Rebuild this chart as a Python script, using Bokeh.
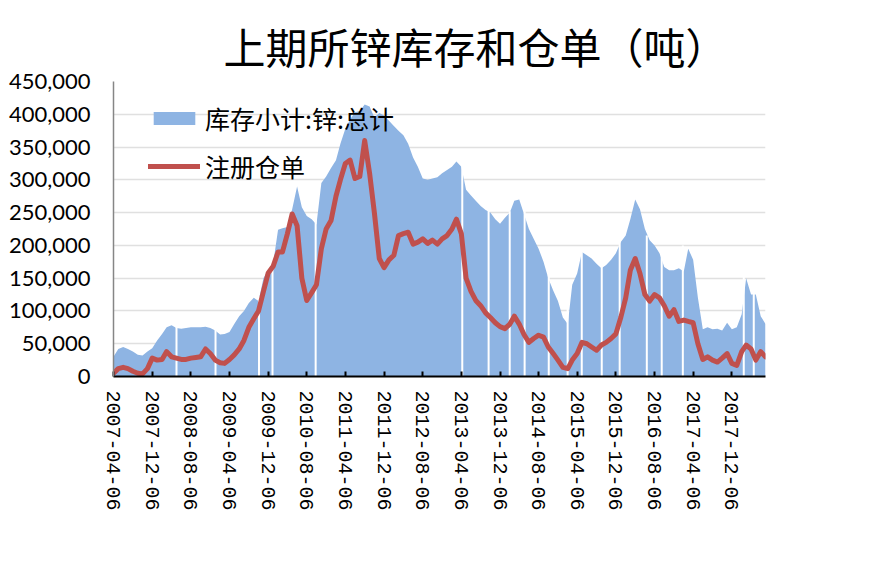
import math
import pandas as pd
from bokeh.plotting import figure
from bokeh.models import (Range1d, FixedTicker, DatetimeTickFormatter, NumeralTickFormatter,
                          SingleIntervalTicker, Legend, LegendItem)
from bokeh.embed import file_html
from bokeh.resources import INLINE

# ---- data (tonnes), monthly readings, Apr 2007 .. Jul 2018 ----
months = pd.period_range("2007-04", "2018-07", freq="M")
dates = [pd.Timestamp(m.year, m.month, 6).to_pydatetime() for m in months]

stock_k = [
    30, 42, 45, 42, 38, 33, 32, 38, 43,                      # 2007 Apr-Dec
    55, 65, 75, 78, 74, 73, 74, 75, 75, 75, 76, 74,          # 2008
    70, 64, 65, 68, 80, 92, 100, 112, 120, 115, 150, 163,    # 2009
    172, 224, 226, 228, 255, 290, 258, 245, 240, 232, 295, 305,  # 2010
    318, 330, 355, 378, 392, 403, 405, 415, 412, 395, 402, 398,  # 2011
    390, 382, 375, 368, 355, 334, 320, 302, 300, 302, 304, 310,  # 2012
    315, 320, 328, 320, 285, 276, 268, 260, 254, 250, 240, 233,  # 2013
    242, 250, 268, 270, 248, 225, 210, 195, 175, 150, 131, 115,  # 2014
    90, 80, 140, 157, 190, 185, 180, 172, 165, 170, 178, 188,    # 2015
    205, 215, 240, 270, 255, 225, 208, 200, 188, 167, 162, 162,  # 2016
    165, 160, 195, 178, 120, 72, 75, 72, 73, 70, 82, 72,         # 2017
    75, 95, 150, 125, 125, 92, 80,                               # 2018 Jan-Jul
]
receipts_k = [
    5, 12, 14, 12, 8, 5, 4, 12, 28,
    25, 26, 38, 30, 28, 26, 26, 28, 29, 30, 42, 35,
    25, 21, 20, 26, 33, 42, 55, 75, 88, 100, 130, 158,
    168, 190, 190, 218, 248, 230, 150, 116, 128, 140, 195, 225,
    238, 275, 300, 325, 330, 302, 305, 360, 310, 250, 180, 166,
    178, 185, 215, 218, 220, 202, 205, 210, 203, 208, 202, 210,
    215, 225, 240, 218, 150, 130, 116, 108, 97, 90, 82, 76,
    73, 80, 92, 80, 64, 52, 58, 63, 60, 45, 35, 25,
    14, 12, 25, 35, 52, 50, 45, 40, 48, 52, 58, 65,
    90, 120, 162, 180, 157, 125, 115, 125, 120, 108, 92, 102,
    84, 86, 84, 82, 50, 26, 30, 25, 22, 28, 35, 20,
    17, 38, 48, 42, 25, 38, 30,
]
stock = [v * 1000 for v in stock_k]
receipts = [v * 1000 for v in receipts_k]

# weeks with missing inventory data (white breaks in the area) and the area height there
gap_dates = ["2008-05-07", "2009-01-08", "2009-10-09", "2010-01-02", "2010-10-01",
             "2013-04-12", "2013-09-25", "2014-02-05", "2014-05-10", "2014-10-09",
             "2015-02-05", "2015-05-05", "2015-09-08", "2015-12-30", "2016-06-18",
             "2016-09-20", "2017-01-31", "2018-02-19", "2018-04-23"]
gap_tops_k = [78, 72, 122, 178, 242, 330, 256, 252, 252, 155,
              125, 196, 170, 210, 215, 195, 200, 152, 128]
gap_x = [pd.Timestamp(d).to_pydatetime() for d in gap_dates]
gap_tops = [v * 1000 for v in gap_tops_k]

tick_labels = ["2007-04-06", "2007-12-06", "2008-08-06", "2009-04-06", "2009-12-06",
               "2010-08-06", "2011-04-06", "2011-12-06", "2012-08-06", "2013-04-06",
               "2013-12-06", "2014-08-06", "2015-04-06", "2015-12-06", "2016-08-06",
               "2017-04-06", "2017-12-06"]
tick_ms = [pd.Timestamp(t).value // 10**6 for t in tick_labels]

title_text = "上期所锌库存和仓单（吨）"
label_stock = "库存小计:锌:总计"
label_receipts = "注册仓单"

BLUE = "#8EB4E3"
RED = "#C0504D"
CJK = "Noto Sans CJK SC"

p = figure(frame_width=652, frame_height=295,
           min_border_left=113, min_border_right=105,
           min_border_top=81, min_border_bottom=186,
           x_axis_type="datetime",
           x_range=Range1d(dates[0], dates[-1]),
           y_range=Range1d(0, 450000),
           output_backend="svg", toolbar_location=None)

p.outline_line_color = None
p.background_fill_color = "white"
p.border_fill_color = "white"

area = p.varea(x=dates, y1=0, y2=stock, fill_color=BLUE, fill_alpha=1.0)
p.segment(x0=gap_x, y0=0, x1=gap_x, y1=gap_tops, line_color="white", line_width=2)
line = p.line(x=dates, y=receipts, line_color=RED, line_width=5,
              line_join="round", line_cap="round")

# title
p.title.text = title_text
p.title.text_font = CJK
p.title.text_font_size = "42px"
p.title.text_font_style = "normal"
p.title.text_color = "black"
p.title.align = "left"
p.title.offset = 110
p.title.standoff = 11

# axes
xa = p.xaxis[0]
xa.ticker = FixedTicker(ticks=tick_ms, minor_ticks=[])
xa.formatter = DatetimeTickFormatter(days="%Y-%m-%d", months="%Y-%m-%d", years="%Y-%m-%d",
                                     hours="%Y-%m-%d", minutes="%Y-%m-%d")
xa.axis_line_color = "black"
xa.axis_line_width = 2
xa.major_tick_line_color = "black"
xa.major_tick_line_width = 2
xa.major_tick_in = 5
xa.major_tick_out = 0
xa.minor_tick_line_color = None
xa.major_label_orientation = -math.pi / 2
xa.major_label_text_font = "Liberation Mono"
xa.major_label_text_font_size = "20px"
xa.major_label_text_color = "black"
xa.major_label_standoff = 14

ya = p.yaxis[0]
ya.ticker = SingleIntervalTicker(interval=50000, num_minor_ticks=0)
ya.formatter = NumeralTickFormatter(format="0,0")
ya.axis_line_color = "#868686"
ya.axis_line_width = 1.5
ya.major_tick_in = 0
ya.major_tick_out = 0
ya.minor_tick_line_color = None
ya.major_label_text_font = "Lato"
ya.major_label_text_font_size = "22px"
ya.major_label_text_color = "black"
ya.major_label_standoff = 23

p.xgrid.grid_line_color = None
p.ygrid.grid_line_color = "#E0E0E0"
p.ygrid.grid_line_width = 1.5

legend = Legend(items=[LegendItem(label=label_stock, renderers=[area]),
                       LegendItem(label=label_receipts, renderers=[line])],
                location=(35, 192))
legend.glyph_width = 52
legend.glyph_height = 16
legend.label_text_font = CJK
legend.label_text_font_size = "25px"
legend.label_text_color = "black"
legend.label_standoff = 5
legend.spacing = 12
legend.padding = 0
legend.margin = 0
legend.border_line_color = None
legend.background_fill_alpha = 0
p.add_layout(legend)

open("out.html", "w").write(file_html(p, INLINE))
